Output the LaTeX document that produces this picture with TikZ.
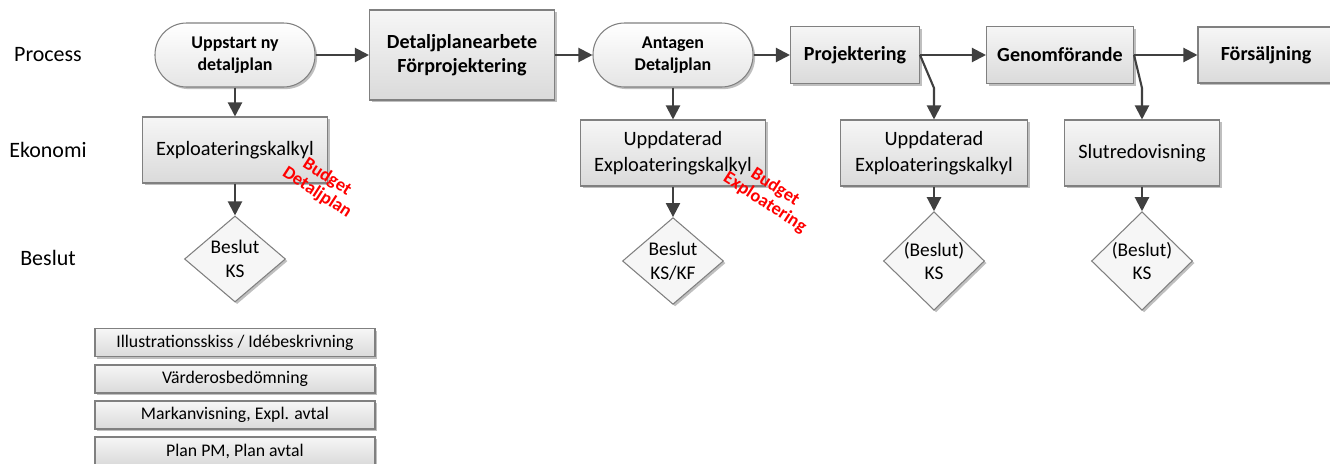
\documentclass[tikz,border=0pt]{standalone}
\usepackage{fontspec}
\setmainfont{Carlito}
\usetikzlibrary{positioning,arrows.meta,shapes.geometric,shadows}
\definecolor{arrowgray}{RGB}{64,64,64}
\definecolor{edgegray}{RGB}{128,128,128}
\definecolor{boxtop}{RGB}{246,246,246}
\definecolor{boxbottom}{RGB}{218,218,218}
\definecolor{budgetred}{RGB}{255,0,0}

\tikzset{
  boxshadow/.style={drop shadow={shadow xshift=1.2pt,shadow yshift=-1.2pt,opacity=0.25,fill=black}},
  procbox/.style={draw=edgegray,line width=0.6pt,top color=boxtop,bottom color=boxbottom,
    boxshadow,font=\fontsize{11.4}{13.5}\selectfont\bfseries,align=center,inner sep=0pt},
  startbox/.style={draw=edgegray,line width=0.6pt,rounded corners=18pt,top color=white,
    bottom color=boxbottom!70,boxshadow,font=\fontsize{10.2}{12.5}\selectfont\bfseries,
    align=center,inner sep=0pt,minimum width=3.2cm,minimum height=1.28cm},
  ecobox/.style={draw=edgegray,line width=0.6pt,top color=boxtop,bottom color=boxbottom,
    boxshadow,font=\fontsize{11.6}{15}\selectfont,align=center,inner sep=0pt,minimum height=1.32cm},
  decision/.style={diamond,draw=edgegray,line width=0.6pt,fill=boxtop,boxshadow,
    font=\fontsize{11}{13.5}\selectfont,align=center,inner sep=0pt,
    minimum width=2.02cm,minimum height=1.72cm},
  listbox/.style={draw=edgegray,line width=0.8pt,top color=boxtop,bottom color=boxbottom,
    boxshadow,font=\fontsize{10.1}{12}\selectfont,inner sep=0pt,
    minimum width=5.6cm,minimum height=0.56cm},
  rowlabel/.style={font=\fontsize{12.5}{15}\selectfont},
  budget/.style={text=budgetred,font=\fontsize{10.4}{10.5}\selectfont\bfseries,align=center,rotate=-33},
  flow/.style={draw=arrowgray,line width=1.2pt,-{Triangle[length=8pt,width=8pt]}}
}

\begin{document}
\begin{tikzpicture}
  \useasboundingbox (0,0) rectangle (26.6,-9.26);

  % row labels
  \node[rowlabel] (lprocess) at (0.96,-1.1) {Process};
  \node[rowlabel] (lekonomi) at (0.96,-3.0) {Ekonomi};
  \node[rowlabel] (lbeslut) at (0.96,-5.16) {Beslut};

  % process row
  \node[startbox] (uppstart) at (4.7,-1.1) {Uppstart ny\\detaljplan};
  \node[procbox,minimum width=3.7cm,minimum height=1.8cm] (detaljarb) at (9.24,-1.1)
    {Detaljplanearbete\\Förprojektering};
  \node[startbox] (antagen) at (13.46,-1.1) {Antagen\\Detaljplan};
  \node[procbox,minimum width=2.58cm,minimum height=1.14cm] (projekt) at (17.1,-1.1) {Projektering};
  \node[procbox,minimum width=2.94cm,minimum height=1.14cm] (genomf) at (21.2,-1.1) {Genomförande};
  \node[procbox,minimum width=2.72cm,minimum height=1.12cm] (forsalj) at (25.32,-1.1) {Försäljning};

  % economy row
  \node[ecobox,minimum width=3.7cm] (kalkyl) at (4.7,-3.0) {Exploateringskalkyl};
  \node[ecobox,minimum width=3.7cm] (updone) at (13.46,-3.06) {Uppdaterad\\Exploateringskalkyl};
  \node[ecobox,minimum width=3.74cm] (updtwo) at (18.68,-3.06) {Uppdaterad\\Exploateringskalkyl};
  \node[ecobox,minimum width=3.1cm] (slutred) at (22.84,-3.06) {Slutredovisning};

  % decisions
  \node[decision] (beslutone) at (4.7,-5.18) {Beslut\\KS};
  \node[decision] (beslutkf) at (13.46,-5.22) {Beslut\\KS/KF};
  \node[decision] (beslutthree) at (18.68,-5.22) {(Beslut)\\KS};
  \node[decision] (beslutfour) at (22.84,-5.22) {(Beslut)\\KS};

  % budget notes
  \node[budget] (budgetdp) at (6.44,-3.7) {Budget\\Detaljplan};
  \node[budget] (budgetexpl) at (15.4,-3.9) {Budget\\Exploatering};

  % documents
  \node[listbox] (illu) at (4.7,-6.85) {Illustrationsskiss / Idébeskrivning};
  \node[listbox] (varde) at (4.7,-7.58) {Värderosbedömning};
  \node[listbox] (markanv) at (4.7,-8.3) {Markanvisning, Expl. avtal};
  \node[listbox] (planpm) at (4.7,-9.02) {Plan PM, Plan avtal};

  % connectors
  \coordinate (kneeproj) at (18.68,-1.76);
  \coordinate (kneegen) at (22.84,-1.76);
  \draw[flow] (uppstart) -- (detaljarb);
  \draw[flow] (detaljarb) -- (antagen);
  \draw[flow] (antagen) -- (projekt);
  \draw[flow] (projekt) -- (genomf);
  \draw[flow] (genomf) -- (forsalj);
  \draw[flow] (uppstart) -- (kalkyl);
  \draw[flow] (kalkyl) -- (beslutone);
  \draw[flow] (antagen) -- (updone);
  \draw[flow] (updone) -- (beslutkf);
  \draw[flow] (projekt.east) -- (kneeproj) -- (updtwo.north);
  \draw[flow] (updtwo) -- (beslutthree);
  \draw[flow] (genomf.east) -- (kneegen) -- (slutred.north);
  \draw[flow] (slutred) -- (beslutfour);
\end{tikzpicture}
\end{document}
